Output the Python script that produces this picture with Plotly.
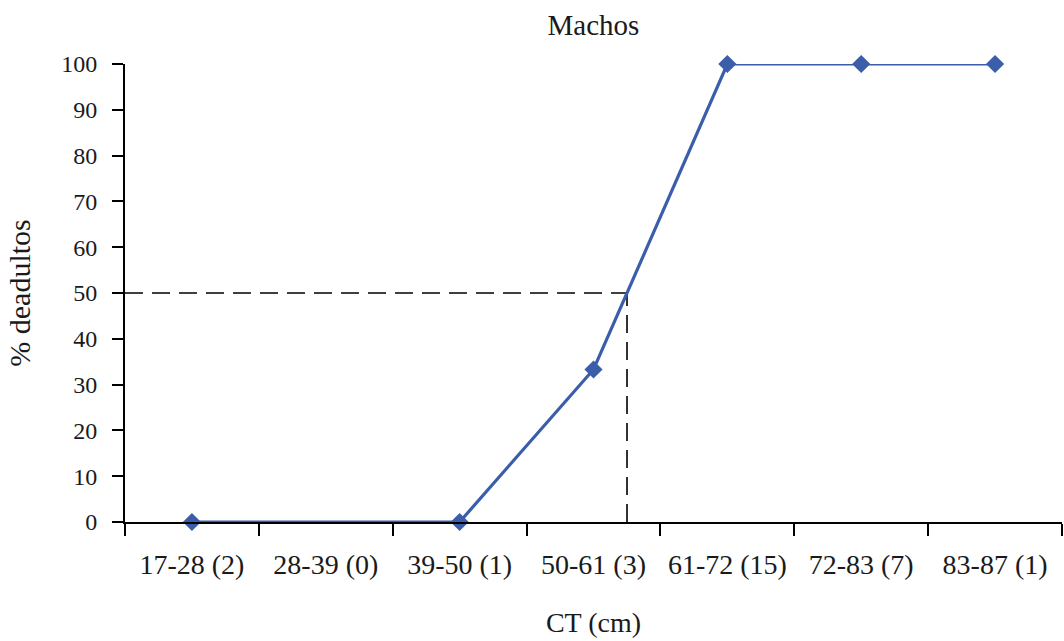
import plotly.graph_objects as go

categories = ["17-28 (2)", "28-39 (0)", "39-50 (1)", "50-61 (3)", "61-72 (15)", "72-83 (7)", "83-87 (1)"]
pct_adults = [0, None, 0, 33.3, 100, 100, 100]
y_ticks = list(range(0, 101, 10))
threshold = 50

# locate where the curve crosses the threshold (category index, fractional)
cross_x = None
idx = [i for i, v in enumerate(pct_adults) if v is not None]
for a, b in zip(idx[:-1], idx[1:]):
    va, vb = pct_adults[a], pct_adults[b]
    if va < threshold <= vb:
        cross_x = a + (threshold - va) / (vb - va) * (b - a)
        break

font_family = "Liberation Serif, Times New Roman, serif"
text_color = "#1a1a1a"
line_color = "#3B5EAA"

fig = go.Figure()
fig.add_trace(go.Scatter(
    x=categories,
    y=pct_adults,
    mode="lines+markers",
    connectgaps=True,
    cliponaxis=False,
    line=dict(color=line_color, width=3.2),
    marker=dict(symbol="diamond", size=14, color=line_color),
    showlegend=False,
))

dash_style = dict(color="black", width=1.6, dash="18px,9px")
fig.add_shape(type="line", xref="x", yref="y", x0=-0.5, x1=cross_x, y0=threshold, y1=threshold,
              line=dash_style, layer="below")
fig.add_shape(type="line", xref="x", yref="y", x0=cross_x, x1=cross_x, y0=0, y1=threshold,
              line=dash_style, layer="below")

fig.update_layout(
    width=1064, height=641,
    paper_bgcolor="white", plot_bgcolor="white",
    margin=dict(l=125, r=2, t=64, b=119, autoexpand=False),
    font=dict(family=font_family, size=24, color=text_color),
    title=dict(text="Machos", x=0.5, xref="paper", xanchor="center",
               y=1 - 25 / 641, yref="container", yanchor="middle",
               font=dict(family=font_family, size=29, color=text_color)),
)

fig.update_xaxes(
    type="category",
    categoryorder="array", categoryarray=categories,
    range=[-0.5, len(categories) - 0.5],
    tickson="boundaries",
    tickangle=0, automargin=False,
    showgrid=False, zeroline=False,
    showline=True, linecolor="black", linewidth=2,
    ticks="outside", ticklen=12, tickwidth=2, tickcolor="black",
    tickfont=dict(size=28),
    ticklabelstandoff=16,
    title=dict(text="CT (cm)", standoff=34, font=dict(size=28)),
)
fig.update_yaxes(
    range=[0, 100],
    tickmode="array", tickvals=y_ticks,
    automargin=False,
    showgrid=False, zeroline=False,
    showline=True, linecolor="black", linewidth=2,
    ticks="outside", ticklen=11, tickwidth=2, tickcolor="black",
    tickfont=dict(size=24),
    ticklabelstandoff=10,
    title=dict(text="% deadultos", standoff=22, font=dict(size=30)),
)

fig.write_html("out.html")
